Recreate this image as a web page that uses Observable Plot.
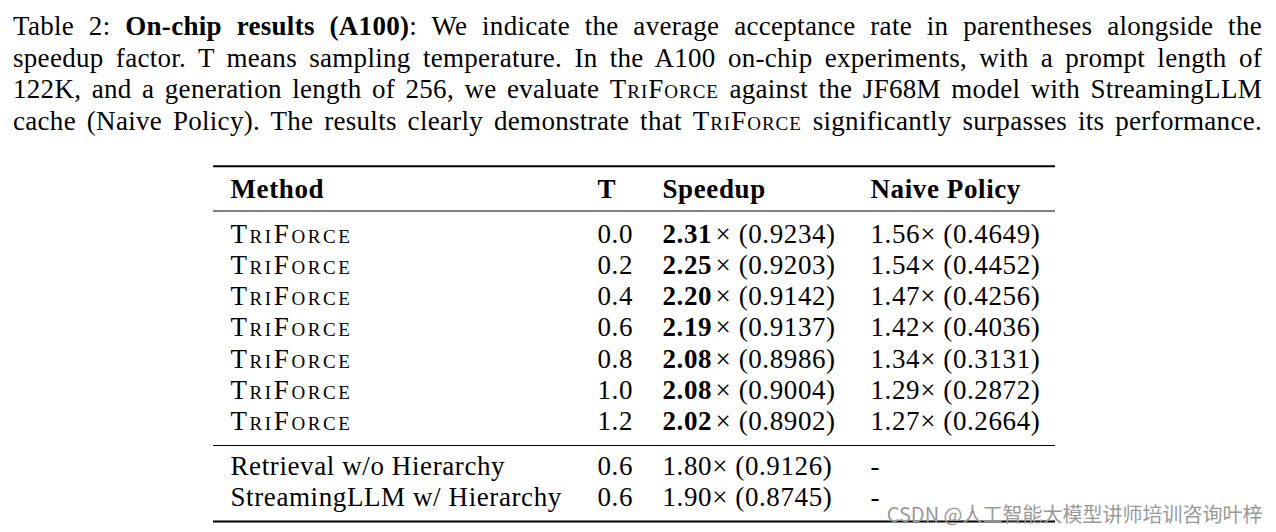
<!DOCTYPE html>
<html>
<head>
<meta charset="utf-8">
<script src="https://cdn.jsdelivr.net/npm/d3@7"></script>
<script src="https://cdn.jsdelivr.net/npm/@observablehq/plot@0.6"></script>
<style>
  html, body { margin: 0; padding: 0; background: #fff; }
  #caption {
    box-sizing: border-box;
    height: 140px;
    padding-top: 11px;
    font-family: "Liberation Serif", serif;
    font-size: 27px;
    line-height: 31.7px;
    letter-spacing: 0.3px;
    color: #000;
  }
  #caption .l {
    width: 1249px;
    margin-left: 13px;
    text-align: justify;
    text-align-last: justify;
    white-space: normal;
  }
  .sc { font-variant: small-caps; letter-spacing: 1px; }
  #chart svg { display: block; }
</style>
</head>
<body>
<div id="caption">
  <div class="l">Table 2: <b>On-chip results (A100)</b>: We indicate the average acceptance rate in parentheses alongside the</div>
  <div class="l">speedup factor. T means sampling temperature. In the A100 on-chip experiments, with a prompt length of</div>
  <div class="l">122K, and a generation length of 256, we evaluate <span class="sc">TriForce</span> against the JF68M model with StreamingLLM</div>
  <div class="l">cache (Naive Policy). The results clearly demonstrate that <span class="sc">TriForce</span> significantly surpasses its performance.</div>
</div>
<div id="chart"></div>
<script>
// ---- data ----
const headers = ["Method", "T", "Speedup", "Naive Policy"];
const methods = ["TriForce", "TriForce", "TriForce", "TriForce", "TriForce", "TriForce", "TriForce",
                 "Retrieval w/o Hierarchy", "StreamingLLM w/ Hierarchy"];
const temps = ["0.0", "0.2", "0.4", "0.6", "0.8", "1.0", "1.2", "0.6", "0.6"];
const speedups = [2.31, 2.25, 2.20, 2.19, 2.08, 2.08, 2.02, 1.80, 1.90];
const speedupAcceptance = [0.9234, 0.9203, 0.9142, 0.9137, 0.8986, 0.9004, 0.8902, 0.9126, 0.8745];
const naiveSpeedups = [1.56, 1.54, 1.47, 1.42, 1.34, 1.29, 1.27, null, null];
const naiveAcceptance = [0.4649, 0.4452, 0.4256, 0.4036, 0.3131, 0.2872, 0.2664, null, null];
const rowGroups = [0, 0, 0, 0, 0, 0, 0, 1, 1];
const speedupBold = [true, true, true, true, true, true, true, false, false];
const watermark = "CSDN @人工智能大模型讲师培训咨询叶梓";

// ---- table built from the arrays ----
const rows = methods.map((m, i) => ({
  i, method: m, t: temps[i], sp: speedups[i], spAcc: speedupAcceptance[i],
  nv: naiveSpeedups[i], nvAcc: naiveAcceptance[i], group: rowGroups[i], bold: speedupBold[i]
}));

// ---- layout (pixels) ----
const W = 1276, H = 392;
const colX = {"Method": 230, "T": 597, "Speedup": 662, "Naive Policy": 870};
const boldRestX = 715;
const tableX1 = 213, tableX2 = 1055;
const headerY = 57, firstRowY = 102, rowStep = 31.3, groupGap = 13;
const rowY = d => firstRowY + d.i * rowStep + d.group * groupGap;
const rules = [
  {y: 25.7, w: 2},
  {y: 70.5, w: 1.2},
  {y: 305, w: 1.2},
  {y: 381, w: 2}
];

const font = "Liberation Serif";
const fs = 27;
const common = {fontFamily: font, fontSize: fs, textAnchor: "start", lineAnchor: "bottom", fill: "black"};

const chart = Plot.plot({
  width: W,
  height: H,
  margin: 0,
  x: {type: "identity", axis: null},
  y: {type: "identity", axis: null},
  style: {background: "white", overflow: "visible", letterSpacing: "0.6px"},
  marks: [
    Plot.ruleY(rules, {y: "y", x1: tableX1, x2: tableX2, strokeWidth: "w", stroke: "black"}),
    Plot.text(headers, {...common, x: d => colX[d], y: headerY, text: d => d, fontWeight: "bold"}),
    Plot.text(rows.filter(d => d.method === "TriForce"), {...common, x: colX["Method"], y: rowY, text: "method", fontVariant: "small-caps"}),
    Plot.text(rows.filter(d => d.method !== "TriForce"), {...common, x: colX["Method"], y: rowY, text: "method"}),
    Plot.text(rows, {...common, x: colX["T"], y: rowY, text: "t"}),
    Plot.text(rows.filter(d => d.bold), {...common, x: colX["Speedup"], y: rowY, text: d => d.sp.toFixed(2), fontWeight: "bold"}),
    Plot.text(rows.filter(d => d.bold), {...common, x: boldRestX, y: rowY, text: d => `× (${d.spAcc.toFixed(4)})`}),
    Plot.text(rows.filter(d => !d.bold), {...common, x: colX["Speedup"], y: rowY, text: d => `${d.sp.toFixed(2)}× (${d.spAcc.toFixed(4)})`}),
    Plot.text(rows, {...common, x: colX["Naive Policy"], y: rowY, text: d => d.nv == null ? "-" : `${d.nv.toFixed(2)}× (${d.nvAcc.toFixed(4)})`}),
    Plot.text([watermark], {x: 1262, y: 381, text: d => d, textAnchor: "end", lineAnchor: "bottom", fontFamily: "Noto Sans CJK SC", fontSize: 20, fill: "#999999"})
  ]
});
d3.select(chart).selectAll("text")
  .filter(function() { return this.textContent === "TriForce"; })
  .style("letter-spacing", "2.6px");
d3.select(chart).selectAll("text")
  .filter(function() { return this.textContent === watermark; })
  .style("letter-spacing", "0px");
document.getElementById("chart").appendChild(chart);
</script>
</body>
</html>
